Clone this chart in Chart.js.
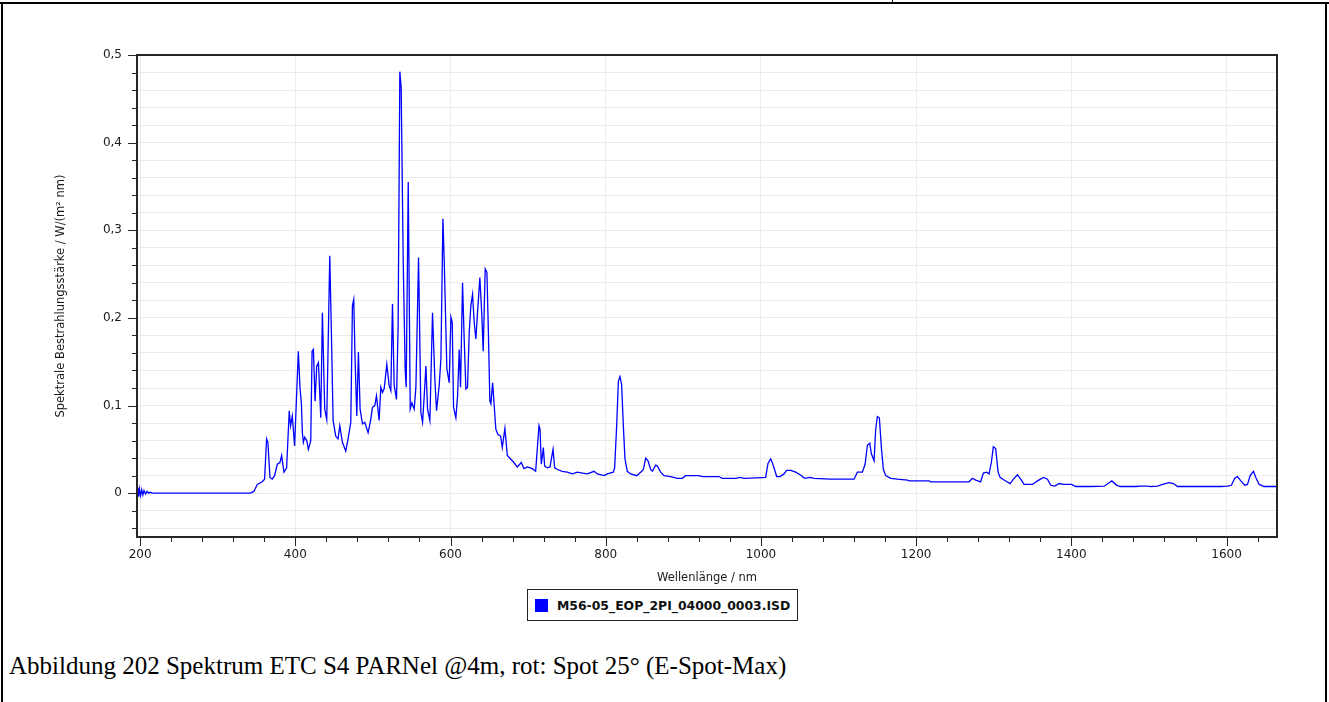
<!DOCTYPE html>
<html lang="de">
<head>
<meta charset="utf-8">
<title>Spektrum ETC S4 PARNel</title>
<script src="https://cdn.jsdelivr.net/npm/chart.js@4.4.1/dist/chart.umd.min.js"></script>
<style>
    html, body { margin: 0; padding: 0; background: #fff; }
    body { position: relative; width: 1329px; height: 702px; overflow: hidden; }
    .rule { position: absolute; background: #000; }
    #chartWrap { position: absolute; left: 0; top: 0; width: 1329px; height: 589px; }
    #legend {
        position: absolute; left: 527px; top: 589px; width: 269px; height: 30px;
        border: 1px solid #222; display: flex; align-items: center;
        font: bold 12.4px "DejaVu Sans", sans-serif; color: #111;
    }
    #legend .swatch { width: 13px; height: 13px; background: #0000ff; margin: 0 9px 0 7px; }
    #caption {
        position: absolute; left: 9px; top: 652px; line-height: 30px;
        font: 25px "Liberation Serif", "Times New Roman", serif; color: #000; white-space: nowrap;
    }
</style>
</head>
<body>
<div class="rule" style="left:0;top:2px;width:1329px;height:2px"></div>
<div class="rule" style="left:1px;top:2px;width:2px;height:700px"></div>
<div class="rule" style="left:1325px;top:2px;width:2px;height:700px"></div>
<div class="rule" style="left:892px;top:0;width:1px;height:3px"></div>

<div id="chartWrap"><canvas id="spectrumChart" width="1329" height="589"></canvas></div>
<div id="legend"><span class="swatch"></span><span id="legendText"></span></div>
<div id="caption">Abbildung 202 Spektrum ETC S4 PARNel @4m, rot: Spot 25° (E-Spot-Max)</div>

<script>
// wavelength in nm
const wavelengths = [
    196, 197, 198, 199, 200.5, 202, 203.5, 205, 207, 209, 211, 213, 216,
    342, 346.6, 351, 357.4, 360.4, 363, 364.7, 367.3, 370.3, 373.3, 376.8, 380.2, 382.4, 385.4, 388.8,
    392.2, 393.9, 396.1, 399.1, 403.9, 406, 407.8, 409.1, 410.4, 412.1, 414.7, 416.9, 419.9,
    421.6, 423.3, 425.5, 427.6, 429.8, 432.8, 434.9, 437.9, 440.5, 442.2, 444.4, 447, 448.7,
    452.1, 455.1, 457.3, 460.7, 465, 468, 471.5, 473.6, 475.3, 477, 479.2, 481.3, 483.5, 486.5,
    489.5, 493.8, 497.2, 499.4, 502.4, 504.6, 508, 510.2, 512.3, 514.5, 517.9, 520.9, 523.1,
    525.2, 527.4, 530.4, 532.5, 534.7, 536.4, 539, 541.6, 542.9, 545.5, 548.1, 550.2, 553.2,
    555.4, 558.8, 561.8, 564, 566.1, 568.3, 570.4, 573.4, 576.8, 579.8, 582, 585.4, 587.6,
    590.2, 591.9, 595.3, 598.3, 600.5, 602.2, 603.9, 606.9, 609.1, 611.2, 612.9, 615.5, 617.6,
    619.8, 621.9, 624.1, 626.2, 628.4, 630.5, 632.7, 634.8, 637.8, 640.4, 642.1, 644.7, 646.9,
    648.6, 650.7, 652, 654.3, 656.3, 658.4, 661.1, 664.6, 666.7, 670.1, 673.2, 677.4, 681.7,
    686, 691.2, 694.6, 698.9, 705.4, 709.7, 714, 715.3, 717, 719.6, 721.3, 724.8, 728.2,
    732.1, 734.2, 737.7, 744.1, 750.5, 757, 763.4, 769.9, 776.3, 784.9, 789.2, 797.8, 802.1,
    809.8, 811.5, 814.1, 816.3, 818.4, 820.5, 822.7, 824.8, 827.8, 832.1, 839.9, 845, 848.5,
    851.5, 854.5, 857.9, 860.1, 864.4, 866.5, 870.8, 875.1, 883.7, 892.3, 898.7, 903, 920.1,
    924.4, 945.9, 950.2, 967.4, 973, 978.1, 993.2, 1006.1, 1009.1, 1012.5, 1015.1, 1020.3, 1024.6,
    1029.7, 1033.2, 1038.3, 1044.8, 1050.4, 1056.4, 1063.3, 1068.4, 1089.9, 1120, 1124.3, 1130.7,
    1134.2, 1137.2, 1140.2, 1142.3, 1145.8, 1147.9, 1150, 1152.6, 1155.2, 1157.8, 1160.8, 1167.2,
    1175.8, 1188.7, 1190.9, 1216.6, 1218.8, 1268.2, 1272.5, 1276.8, 1283.1, 1286.6, 1290.9, 1293.9,
    1296.9, 1299.5, 1302.5, 1305.6, 1308.2, 1313.3, 1321.1, 1325.4, 1330.5, 1334, 1339.1, 1349.9,
    1356.3, 1364.1, 1369.2, 1373.5, 1378.7, 1384.3, 1389.9, 1397.2, 1400.2, 1405.8, 1425.1, 1442.3,
    1448.7, 1452.2, 1458.6, 1463.8, 1483.1, 1489.5, 1498.1, 1502.4, 1511, 1517.5, 1526, 1531.6,
    1536.8, 1592.6, 1601.2, 1606.3, 1610.6, 1614.1, 1618.4, 1623.5, 1627, 1630.4, 1634.7, 1637.7,
    1642, 1648.5, 1665
];

// spectral irradiance in W/(m² nm)
const irradiance = [
    0, 0.006, -0.004, 0.005, -0.003, 0.004, -0.002, 0.003, -0.001, 0.002, 0, 0.001, 0,
    0, 0.002, 0.01, 0.013, 0.016, 0.062, 0.058, 0.018, 0.016, 0.02, 0.033, 0.035, 0.043, 0.024, 0.029,
    0.094, 0.077, 0.088, 0.054, 0.162, 0.121, 0.103, 0.069, 0.058, 0.064, 0.06, 0.05, 0.06,
    0.162, 0.164, 0.105, 0.145, 0.149, 0.086, 0.206, 0.096, 0.084, 0.164, 0.271, 0.161, 0.083,
    0.065, 0.062, 0.077, 0.058, 0.048, 0.062, 0.081, 0.214, 0.221, 0.153, 0.088, 0.161, 0.096, 0.079,
    0.081, 0.069, 0.084, 0.098, 0.1, 0.111, 0.083, 0.121, 0.115, 0.119, 0.147, 0.123, 0.117,
    0.216, 0.123, 0.107, 0.191, 0.481, 0.463, 0.267, 0.14, 0.121, 0.355, 0.096, 0.103, 0.096,
    0.121, 0.269, 0.092, 0.081, 0.111, 0.145, 0.096, 0.083, 0.206, 0.13, 0.094, 0.123, 0.153,
    0.313, 0.264, 0.142, 0.126, 0.201, 0.195, 0.098, 0.086, 0.111, 0.164, 0.121, 0.24, 0.176,
    0.119, 0.121, 0.183, 0.214, 0.227, 0.195, 0.176, 0.206, 0.246, 0.202, 0.162, 0.256, 0.252,
    0.191, 0.105, 0.102, 0.126, 0.1, 0.073, 0.067, 0.065, 0.052, 0.074, 0.043, 0.039, 0.035,
    0.03, 0.035, 0.028, 0.03, 0.028, 0.025, 0.077, 0.073, 0.033, 0.052, 0.031, 0.029, 0.03,
    0.05, 0.029, 0.027, 0.025, 0.024, 0.022, 0.024, 0.023, 0.022, 0.025, 0.022, 0.02, 0.022,
    0.024, 0.029, 0.077, 0.128, 0.133, 0.124, 0.077, 0.039, 0.025, 0.022, 0.02, 0.024, 0.027,
    0.04, 0.037, 0.027, 0.025, 0.032, 0.031, 0.024, 0.02, 0.019, 0.017, 0.017, 0.02, 0.02,
    0.019, 0.019, 0.017, 0.017, 0.018, 0.017, 0.0175, 0.018, 0.034, 0.039, 0.034, 0.019, 0.019,
    0.022, 0.026, 0.026, 0.024, 0.021, 0.017, 0.018, 0.017, 0.016, 0.016, 0.024, 0.024,
    0.033, 0.055, 0.057, 0.045, 0.037, 0.073, 0.0875, 0.086, 0.052, 0.027, 0.02, 0.017,
    0.016, 0.015, 0.014, 0.014, 0.013, 0.013, 0.017, 0.015, 0.013, 0.023, 0.024, 0.022,
    0.035, 0.053, 0.051, 0.024, 0.018, 0.015, 0.011, 0.016, 0.021, 0.017, 0.01, 0.01,
    0.014, 0.018, 0.016, 0.009, 0.008, 0.011, 0.01, 0.01, 0.01, 0.0076, 0.0076, 0.008,
    0.012, 0.014, 0.009, 0.0076, 0.0076, 0.008, 0.008, 0.0076, 0.008, 0.01, 0.012, 0.011,
    0.0076, 0.0076, 0.008, 0.009, 0.017, 0.019, 0.014, 0.009, 0.01, 0.02, 0.025, 0.018,
    0.01, 0.0076, 0.0076
];

const seriesLabel = 'M56-05_EOP_2PI_04000_0003.ISD';
const xTitle = 'Wellenlänge / nm';
const yTitle = 'Spektrale Bestrahlungsstärke / W/(m² nm)';

const gridColor = '#ebebeb';
const frameColor = '#262626';

// x: major every 200 nm, minor every 40 nm; y: major every 0.1, minor every 0.02
function isXMajor(v) { return Math.round(v) % 200 === 0; }
function isYMajor(v) { return Math.round(v * 100) % 10 === 0; }

// keep only ticks on the step grid that lie inside the axis range
function keepStep(step) {
    return function(scale) {
        const lo = scale.min - step * 1e-3, hi = scale.max + step * 1e-3;
        scale.ticks = scale.ticks.filter(t =>
            t.value >= lo && t.value <= hi &&
            Math.abs(t.value / step - Math.round(t.value / step)) < 1e-6);
    };
}

// plot frame plus long/short tick marks
const frameAndTicks = {
    id: 'frameAndTicks',
    afterDraw(chart) {
        const { ctx, chartArea: a, scales: { x, y } } = chart;
        ctx.save();
        ctx.strokeStyle = frameColor;
        ctx.lineWidth = 1;
        ctx.beginPath();
        x.ticks.forEach(t => {
            const px = Math.round(x.getPixelForValue(t.value)) + 0.5;
            ctx.moveTo(px, a.bottom);
            ctx.lineTo(px, a.bottom + (isXMajor(t.value) ? 9 : 5));
        });
        y.ticks.forEach(t => {
            const py = Math.round(y.getPixelForValue(t.value)) + 0.5;
            ctx.moveTo(a.left - (isYMajor(t.value) ? 9 : 5), py);
            ctx.lineTo(a.left, py);
        });
        ctx.stroke();
        ctx.lineWidth = 2;
        ctx.strokeRect(a.left, a.top, a.right - a.left, a.bottom - a.top);
        ctx.restore();
    }
};

Chart.defaults.font.family = '"DejaVu Sans", sans-serif';
Chart.defaults.font.size = 12;
Chart.defaults.color = '#1a1a1a';

const ctx = document.getElementById('spectrumChart').getContext('2d');
const points = wavelengths.map((w, i) => ({ x: w, y: irradiance[i] }));

new Chart(ctx, {
    type: 'line',
    data: {
        datasets: [{
            label: seriesLabel,
            data: points,
            borderColor: '#0000ff',
            borderWidth: 1.3,
            pointRadius: 0,
            tension: 0,
            fill: false
        }]
    },
    options: {
        responsive: false,
        animation: false,
        devicePixelRatio: 1,
        layout: { padding: { left: 50, top: 55, right: 52, bottom: 0 } },
        plugins: {
            legend: { display: false },
            tooltip: { enabled: false }
        },
        scales: {
            x: {
                type: 'linear',
                min: 196,
                max: 1665,
                afterBuildTicks: keepStep(40),
                afterFit: function(scale) { scale.height = 52; },
                border: { display: false },
                grid: {
                    color: c => (c.tick && isXMajor(c.tick.value)) ? gridColor : 'rgba(0,0,0,0)',
                    tickLength: 9,
                    tickColor: 'rgba(0,0,0,0)'
                },
                ticks: {
                    stepSize: 40,
                    includeBounds: false,
                    autoSkip: false,
                    maxRotation: 0,
                    padding: 2,
                    callback: v => isXMajor(v) ? String(v) : ''
                },
                title: { display: true, text: xTitle, font: { size: 11.5 }, padding: { top: 4, bottom: 4 } }
            },
            y: {
                min: -0.05,
                max: 0.5,
                afterBuildTicks: keepStep(0.02),
                afterFit: function(scale) { scale.width = 87; },
                border: { display: false },
                grid: {
                    color: gridColor,
                    tickLength: 9,
                    tickColor: 'rgba(0,0,0,0)'
                },
                ticks: {
                    stepSize: 0.02,
                    includeBounds: false,
                    autoSkip: false,
                    padding: 6,
                    callback: function(v) {
                        const r = Math.round(v * 100);
                        if (r % 10 !== 0) return '';
                        return r === 0 ? '0' : (r / 100).toFixed(1).replace('.', ',');
                    }
                },
                title: { display: true, text: yTitle, font: { size: 11.5 }, padding: { top: 4, bottom: 4 } }
            }
        }
    },
    plugins: [frameAndTicks]
});

document.getElementById('legendText').textContent = seriesLabel;
</script>
</body>
</html>
